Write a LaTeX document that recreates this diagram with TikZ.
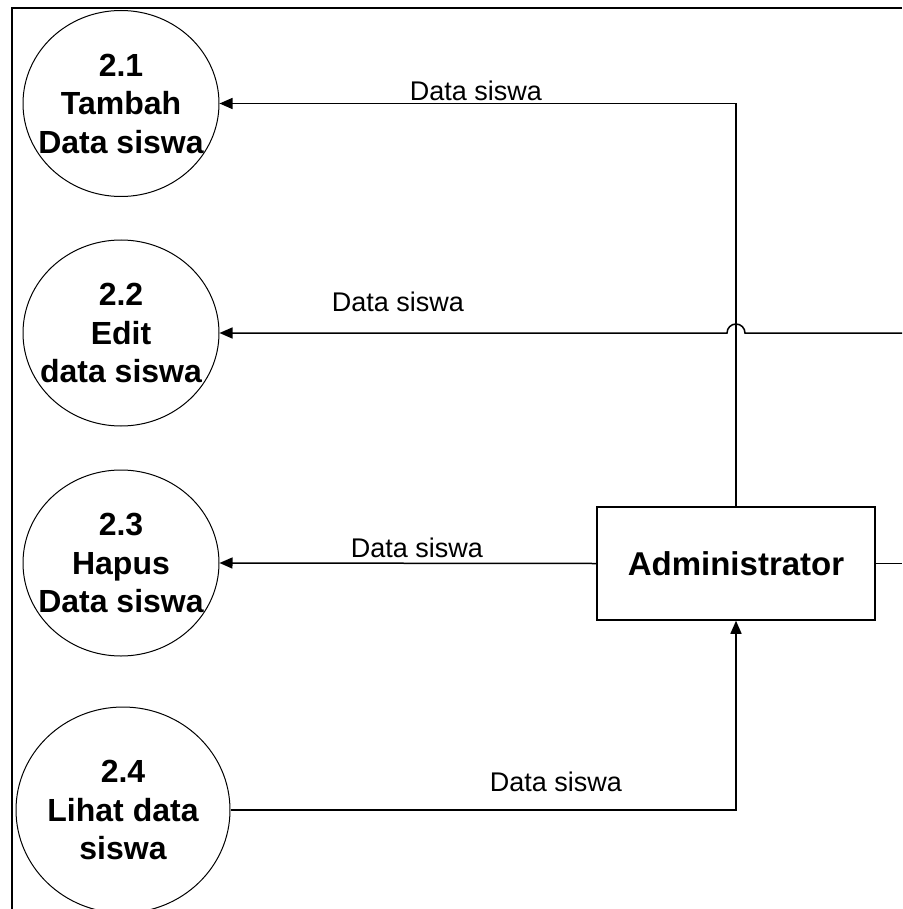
\documentclass[tikz,border=0pt]{standalone}
\usepackage{fontspec}
\setmainfont{Liberation Sans}
\usetikzlibrary{shapes.geometric, arrows.meta}

\begin{document}
\begin{tikzpicture}[x=1pt, y=-1pt,
        proc/.style = {draw, ellipse, line width=1pt, inner sep=0pt, minimum width=196pt, minimum height=186pt},
        proctext/.style = {align=center, font=\bfseries\fontsize{32}{38.5}\selectfont},
        entity/.style = {draw, rectangle, line width=1.5pt, minimum width=278pt, minimum height=113pt, font=\bfseries\fontsize{33}{40}\selectfont},
        lbl/.style = {font=\fontsize{27}{32}\selectfont},
        flow/.style = {line width=1.5pt, -{Triangle[length=13pt, width=11pt]}}]
        \useasboundingbox (0,0) rectangle (902,909);
        \draw [line width=2pt] (12,909) -- (12,8) -- (902,8);

        \node[proc, label={[proctext]center:{2.1\\Tambah\\Data siswa}}] at (121, 103.5) (P1) {};
        \node[proc, label={[proctext]center:{2.2\\Edit\\data siswa}}] at (121, 333) (P2) {};
        \node[proc, label={[proctext]center:{2.3\\Hapus\\Data siswa}}] at (121, 563) (P3) {};
        \node[proc, minimum width=214pt, minimum height=206pt, label={[proctext]center:{2.4\\Lihat data\\siswa}}] at (123, 810) (P4) {};
        \node[entity] at (736, 563.5) (Adm) {Administrator};

        \coordinate (E2) at (902, 333);
        \coordinate (E5) at (902, 563.5);
        \coordinate (Hop) at (Adm.north |- P2.east);

        \draw [flow] (Adm.north) |- (P1.east);
        \draw [flow] (E2) -- ([xshift=9pt]Hop) arc[start angle=0, end angle=180, radius=9pt] -- (P2.east);
        \draw [flow] (Adm.west) -- (P3.east);
        \draw [flow] (P4.east) -| (Adm.south);
        \draw [line width=1.5pt] (Adm.east) -- (E5);

        \node[lbl] at (476, 91) (L1) {Data siswa};
        \node[lbl] at (398, 302) (L2) {Data siswa};
        \node[lbl] at (417, 548) (L3) {Data siswa};
        \node[lbl] at (556, 782) (L4) {Data siswa};
        \end{tikzpicture}
\end{document}
